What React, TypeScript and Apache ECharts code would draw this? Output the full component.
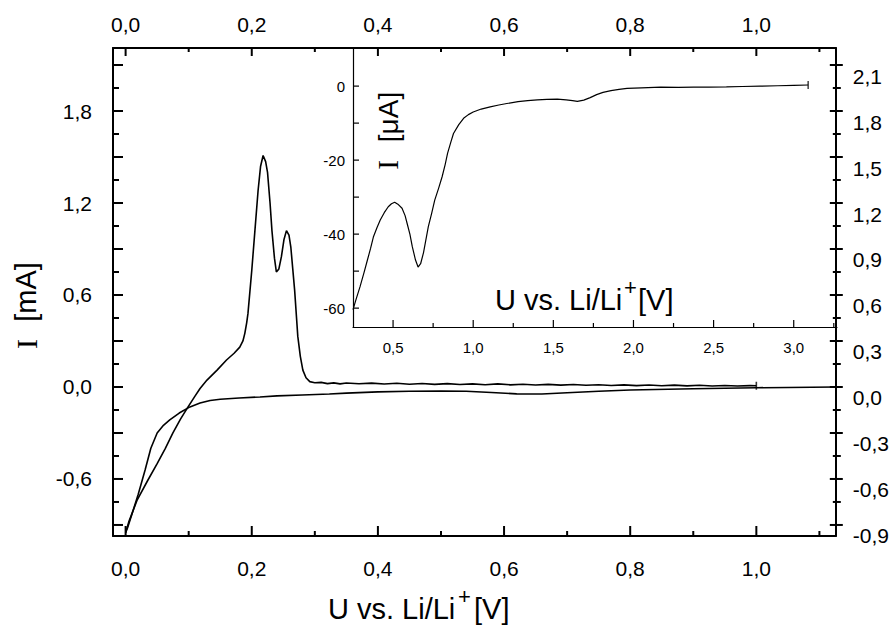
import React, { useEffect, useRef } from "react";
import * as echarts from "echarts";

// ---------- data ----------
// main CV: cathodic (lower) branch, [U (V), I (mA)]
const mainCathodic: number[][] = [
  [1.125, 0.0], [1.05, -0.003], [1.0, -0.005], [0.9, -0.012], [0.8, -0.02], [0.75, -0.028],
  [0.7, -0.038], [0.66, -0.046], [0.62, -0.045], [0.58, -0.036], [0.54, -0.028], [0.5, -0.026],
  [0.45, -0.028], [0.4, -0.032], [0.35, -0.04], [0.323, -0.046], [0.28, -0.052], [0.24, -0.058],
  [0.213, -0.065], [0.18, -0.072], [0.15, -0.08], [0.134, -0.088], [0.118, -0.105], [0.102, -0.13],
  [0.085, -0.17], [0.07, -0.215], [0.06, -0.25], [0.05, -0.3], [0.04, -0.4], [0.031, -0.54],
  [0.02, -0.7], [0.01, -0.83], [0.003, -0.92], [0.0, -0.95],
];
// main CV: anodic (upper) branch with the two peaks
const mainAnodic: number[][] = [
  [0.0, -0.95], [0.005, -0.88], [0.018, -0.74], [0.035, -0.61], [0.05, -0.5], [0.063, -0.4],
  [0.075, -0.3], [0.087, -0.21], [0.099, -0.13], [0.11, -0.06], [0.118, -0.01], [0.129, 0.045],
  [0.145, 0.11], [0.16, 0.176], [0.172, 0.22], [0.181, 0.26], [0.186, 0.3], [0.189, 0.35],
  [0.192, 0.42], [0.194, 0.48], [0.197, 0.62], [0.2, 0.76], [0.205, 1.02], [0.21, 1.28],
  [0.214, 1.44], [0.218, 1.51], [0.222, 1.47], [0.225, 1.4], [0.229, 1.2], [0.232, 1.02],
  [0.236, 0.84], [0.239, 0.75], [0.243, 0.77], [0.247, 0.85], [0.251, 0.96], [0.255, 1.02],
  [0.259, 0.99], [0.262, 0.91], [0.265, 0.77], [0.268, 0.63], [0.271, 0.45], [0.273, 0.33],
  [0.277, 0.2], [0.281, 0.11], [0.286, 0.06], [0.292, 0.035], [0.3, 0.028], [0.31, 0.03],
  [0.32, 0.022], [0.33, 0.027], [0.34, 0.02], [0.35, 0.026], [0.37, 0.021], [0.39, 0.025],
  [0.41, 0.019], [0.43, 0.024], [0.45, 0.018], [0.47, 0.023], [0.49, 0.017], [0.51, 0.022],
  [0.53, 0.016], [0.55, 0.02], [0.57, 0.015], [0.59, 0.02], [0.61, 0.014], [0.63, 0.018],
  [0.65, 0.013], [0.67, 0.017], [0.69, 0.012], [0.71, 0.016], [0.73, 0.011], [0.75, 0.015],
  [0.77, 0.01], [0.79, 0.014], [0.81, 0.009], [0.83, 0.013], [0.85, 0.008], [0.87, 0.012],
  [0.89, 0.007], [0.91, 0.011], [0.93, 0.006], [0.95, 0.01], [0.97, 0.006], [0.99, 0.009],
  [1.0, 0.008],
];
// inset: [U (V), I (µA)]
const insetCurve: number[][] = [
  [0.25, -60.4], [0.27, -57.5], [0.294, -54.2], [0.32, -50.2], [0.34, -47], [0.36, -43.8],
  [0.377, -40.8], [0.4, -38.2], [0.42, -36.2], [0.445, -34.2], [0.47, -32.6], [0.49, -31.8],
  [0.51, -31.4], [0.53, -31.9], [0.556, -33], [0.575, -35], [0.587, -37], [0.605, -40],
  [0.62, -43.4], [0.64, -47], [0.656, -48.9], [0.672, -48], [0.69, -45], [0.705, -41.5],
  [0.72, -38], [0.74, -34.5], [0.76, -30.8], [0.785, -27.5], [0.806, -24.5], [0.825, -21.2],
  [0.84, -18.2], [0.86, -15.2], [0.877, -12.8], [0.91, -10.4], [0.94, -8.7], [0.97, -7.7],
  [1.0, -7], [1.05, -6.2], [1.106, -5.6], [1.16, -5.1], [1.21, -4.7], [1.28, -4.2],
  [1.34, -3.9], [1.4, -3.7], [1.46, -3.6], [1.525, -3.5], [1.58, -3.7], [1.62, -3.9],
  [1.65, -4.1], [1.69, -3.8], [1.73, -3.1], [1.77, -2.3], [1.81, -1.7], [1.86, -1.2],
  [1.91, -0.9], [1.96, -0.6], [2.05, -0.45], [2.17, -0.3], [2.28, -0.35], [2.375, -0.3],
  [2.47, -0.25], [2.58, -0.2], [2.68, -0.1], [2.79, 0], [2.9, 0.1], [3.0, 0.2], [3.09, 0.3],
];

// ---------- ticks / labels ----------
const mainXLabels = [0, 0.2, 0.4, 0.6, 0.8, 1.0];
const mainXMinor = [0.1, 0.3, 0.5, 0.7, 0.9, 1.1];
const mainYLeftLabels = [-0.6, 0, 0.6, 1.2, 1.8];
const mainYMajor = [-0.9, -0.6, -0.3, 0, 0.3, 0.6, 0.9, 1.2, 1.5, 1.8, 2.1];
const mainYMinor = [-0.75, -0.45, -0.15, 0.15, 0.45, 0.75, 1.05, 1.35, 1.65, 1.95];
const insetXLabels = [0.5, 1.0, 1.5, 2.0, 2.5, 3.0];
const insetXMinor = [0.75, 1.25, 1.75, 2.25, 2.75, 3.25];
const insetYLabels = [-60, -40, -20, 0];
const insetYTicks = [-60, -50, -40, -30, -20, -10, 0];

const X_MIN = -0.02, X_MAX = 1.126;
const Y_MIN = -0.972, Y_MAX = 2.211;
const IX_MIN = 0.25, IX_MAX = 3.27;
const IY_MIN = -65.1, IY_MAX = 10.3;

const FONT = "'Liberation Sans', Arial, Helvetica, sans-serif";
const SERIF = "'Liberation Serif', 'Times New Roman', serif";
const comma1 = (v: number) => v.toFixed(1).replace(".", ",");

// axis indices
const X_MAIN_BOTTOM = 0, X_MAIN_TOP = 1, X_INSET = 2, X_DUMMY_MAIN = 3, X_DUMMY_INSET = 4;
const Y_MAIN_LEFT = 0, Y_MAIN_RIGHT = 1, Y_INSET = 2, Y_DUMMY_MAIN = 3, Y_DUMMY_INSET = 4;

function App() {
  const ref = useRef<HTMLDivElement>(null);
  useEffect(() => {
    if (!ref.current) return;
    const chart = echarts.init(ref.current, undefined, { renderer: "svg" });
    const blk = "#000";

    const axisLine = (width: number, zeroIdx: number) => ({
      show: true, onZero: true, onZeroAxisIndex: zeroIdx, lineStyle: { color: blk, width },
    });
    const lab = (extra: any = {}) => ({
      show: true, color: blk, fontFamily: FONT, fontSize: 21, formatter: comma1, ...extra,
    });
    const base = (gridIndex: number, position: string, min: number, max: number) => ({
      type: "value", gridIndex, position, min, max, splitLine: { show: false }, axisTick: { show: false },
    });

    const xAxis: any[] = [
      { ...base(0, "bottom", X_MIN, X_MAX), axisLine: axisLine(2, Y_DUMMY_MAIN),
        axisLabel: lab({ margin: 22, customValues: mainXLabels }) },
      { ...base(0, "top", X_MIN, X_MAX), axisLine: axisLine(2, Y_DUMMY_MAIN),
        axisLabel: lab({ margin: 13, customValues: mainXLabels }) },
      { ...base(1, "bottom", IX_MIN, IX_MAX), axisLine: axisLine(1.2, Y_DUMMY_INSET),
        axisLabel: { show: true, color: blk, fontFamily: FONT, fontSize: 15, margin: 13, formatter: comma1, customValues: insetXLabels } },
      { type: "value", gridIndex: 0, min: 5, max: 6, show: false },
      { type: "value", gridIndex: 1, min: 5, max: 6, show: false },
    ];

    const yAxis: any[] = [
      { ...base(0, "left", Y_MIN, Y_MAX), axisLine: axisLine(2, X_DUMMY_MAIN),
        axisLabel: lab({ margin: 21, customValues: mainYLeftLabels }) },
      { ...base(0, "right", Y_MIN, Y_MAX), axisLine: axisLine(2, X_DUMMY_MAIN),
        axisLabel: {
          show: true, margin: 17, customValues: mainYMajor,
          formatter: (v: number) => `{a|${comma1(v)}}`,
          rich: { a: { color: blk, fontFamily: FONT, fontSize: 21, padding: [22, 0, 0, 0] } },
        } },
      { ...base(1, "left", IY_MIN, IY_MAX), axisLine: axisLine(1.2, X_DUMMY_INSET),
        axisLabel: { show: true, color: blk, fontFamily: FONT, fontSize: 15, margin: 8, customValues: insetYLabels, formatter: (v: number) => String(Math.round(v)) } },
      { type: "value", gridIndex: 0, min: 5, max: 6, show: false },
      { type: "value", gridIndex: 1, min: 5, max: 6, show: false },
    ];

    // tick marks: each tick is anchored at a data point on the frame (placed through the axes'
    // own scales) and drawn as a short line from pixel offset (a) to (b) around that anchor
    const tickSeries = (
      xi: number, yi: number, anchors: number[][],
      ax: number, ay: number, bx: number, by: number, w: number,
    ) => ({
      type: "custom", xAxisIndex: xi, yAxisIndex: yi, data: anchors, silent: true, clip: false, z: 6,
      encode: { x: 0, y: 1 },
      renderItem: (_params: any, api: any) => {
        const p = api.coord([api.value(0), api.value(1)]);
        return {
          type: "line",
          shape: { x1: p[0] + ax, y1: p[1] + ay, x2: p[0] + bx, y2: p[1] + by },
          style: { stroke: blk, lineWidth: w },
        };
      },
    });
    const atX = (vals: number[], y: number) => vals.map((v) => [v, y]);
    const atY = (vals: number[], x: number) => vals.map((v) => [x, v]);

    const ticks = [
      tickSeries(X_MAIN_BOTTOM, Y_MAIN_LEFT, atX(mainXLabels, Y_MIN), 0, 0, 0, -10, 2),
      tickSeries(X_MAIN_BOTTOM, Y_MAIN_LEFT, atX(mainXMinor, Y_MIN), 0, 0, 0, -5, 2),
      tickSeries(X_MAIN_BOTTOM, Y_MAIN_LEFT, atX(mainXLabels, Y_MAX), 0, 0, 0, 8, 2),
      tickSeries(X_MAIN_BOTTOM, Y_MAIN_LEFT, atX(mainXMinor, Y_MAX), 0, 0, 0, 4, 2),
      tickSeries(X_MAIN_BOTTOM, Y_MAIN_LEFT, atY(mainYMajor, X_MIN), 0, 0, 10, 0, 2),
      tickSeries(X_MAIN_BOTTOM, Y_MAIN_LEFT, atY(mainYMinor, X_MIN), 0, 0, 6, 0, 2),
      tickSeries(X_MAIN_BOTTOM, Y_MAIN_LEFT, atY(mainYMajor, X_MAX), -6, 0, 7, 0, 2),
      tickSeries(X_MAIN_BOTTOM, Y_MAIN_LEFT, atY(mainYMinor, X_MAX), -3, 0, 5, 0, 2),
      tickSeries(X_INSET, Y_INSET, atX(insetXLabels, IY_MIN), 0, 0, 0, -7, 1.2),
      tickSeries(X_INSET, Y_INSET, atX(insetXMinor, IY_MIN), 0, 0, 0, -4, 1.2),
      tickSeries(X_INSET, Y_INSET, atY(insetYTicks, IX_MIN), 0, 0, 6, 0, 1.2),
    ];

    const lastMain = mainAnodic[mainAnodic.length - 1];
    const lastInset = insetCurve[insetCurve.length - 1];

    const txt = (x: number, y: number, text: string, size: number) => ({
      type: "text", x, y,
      style: { text, fontSize: size, fontFamily: FONT, fill: blk, align: "left", verticalAlign: "middle" },
    });
    const rtxt = (x: number, y: number, text: string, size: number, family: string) => ({
      type: "text", x, y, rotation: Math.PI / 2,
      style: { text, fontSize: size, fontFamily: family, fill: blk, align: "center", verticalAlign: "middle" },
    });

    const option: any = {
      animation: false,
      backgroundColor: "#fff",
      grid: [
        { left: 113, right: 54, top: 48, bottom: 89, containLabel: false },
        { left: 353, right: 55, top: 48, bottom: 298, containLabel: false },
      ],
      xAxis,
      yAxis,
      series: [
        { type: "line", xAxisIndex: X_MAIN_BOTTOM, yAxisIndex: Y_MAIN_LEFT, data: mainCathodic, showSymbol: false, symbol: "none",
          lineStyle: { color: blk, width: 1.6 }, z: 3 },
        { type: "line", xAxisIndex: X_MAIN_BOTTOM, yAxisIndex: Y_MAIN_LEFT, data: mainAnodic, showSymbol: false, symbol: "none",
          lineStyle: { color: blk, width: 1.6 }, z: 3 },
        { type: "scatter", xAxisIndex: X_MAIN_BOTTOM, yAxisIndex: Y_MAIN_LEFT, data: [lastMain], symbol: "rect", symbolSize: [1.6, 8],
          itemStyle: { color: blk }, z: 4 },
        { type: "line", xAxisIndex: X_INSET, yAxisIndex: Y_INSET, data: insetCurve, showSymbol: false, symbol: "none",
          lineStyle: { color: blk, width: 1.2 }, z: 3 },
        { type: "scatter", xAxisIndex: X_INSET, yAxisIndex: Y_INSET, data: [lastInset], symbol: "rect", symbolSize: [1.4, 8],
          itemStyle: { color: blk }, z: 4 },
        ...ticks,
      ],
      graphic: [
        txt(328, 609, "U vs. Li/Li", 29),
        txt(458, 596, "+", 22),
        txt(474, 609, "[V]", 29),
        txt(495, 300, "U vs. Li/Li", 29),
        txt(624, 287, "+", 22),
        txt(638, 300, "[V]", 29),
        rtxt(26, 292, "[mA]", 29, FONT),
        rtxt(26, 344, "I", 30, SERIF),
        rtxt(388, 117, "[μA]", 28, FONT),
        rtxt(388, 165, "I", 29, SERIF),
      ],
    };
    chart.setOption(option);
    return () => chart.dispose();
  }, []);

  return (
    <div
      ref={ref}
      style={{ position: "absolute", left: 0, top: 0, width: 892, height: 625, background: "#fff" }}
    />
  );
}

export default App;
